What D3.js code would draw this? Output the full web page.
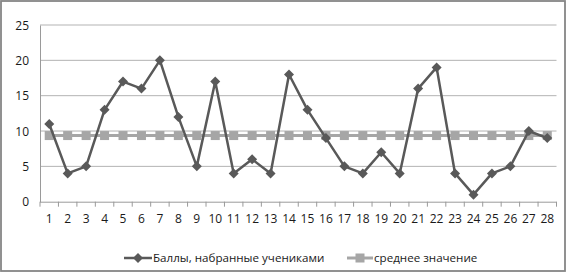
<!DOCTYPE html>
<html><head><meta charset="utf-8">
<script src="https://cdn.jsdelivr.net/npm/d3@7"></script>
<style>body{margin:0;background:#fff}svg{display:block}text{font-family:"Open Sans",sans-serif;fill:#1a1a1a}</style>
</head><body>
<script>
const categories = d3.range(1, 29).map(String);
const scores = [11,4,5,13,17,16,20,12,5,17,4,6,4,18,13,9,5,4,7,4,16,19,4,1,4,5,10,9];
const meanValue = d3.mean(scores);
const meanSeries = categories.map(() => meanValue);
const yTicks = [0,5,10,15,20,25];
const seriesNames = ["Баллы, набранные учениками", "среднее значение"];

(function(){
const W = 568, H = 273;
const svg = d3.select("body").append("svg").attr("width", W).attr("height", H);
svg.append("rect").attr("x",1).attr("y",1).attr("width",W-4).attr("height",H-3)
  .attr("fill","#fff").attr("stroke","#868686").attr("stroke-width",1.8);

const pl = 40, pr = 556.5, pt = 25, pb = 201.7;
const x = d3.scaleBand().domain(categories).range([pl, pr]);
const y = d3.scaleLinear().domain([0, 25]).range([pb, pt]);

svg.append("g").selectAll("line").data(yTicks.filter(t=>t>0)).join("line")
  .attr("x1", pl).attr("x2", pr).attr("y1", d=>y(d)).attr("y2", d=>y(d))
  .attr("stroke","#b3b3b3").attr("stroke-width",1);

const ya = svg.append("g").attr("transform",`translate(${pl},0)`)
  .call(d3.axisLeft(y).tickValues(yTicks).tickSize(0).tickPadding(0));
ya.select(".domain").attr("stroke","#9a9a9a");
ya.selectAll("text").attr("x",-11).attr("dy","0.35em").style("font-size","12px").style("font-family","Open Sans");

const xa = svg.append("g").attr("transform",`translate(0,${pb})`)
  .call(d3.axisBottom(x).tickSize(0).tickPadding(0));
xa.select(".domain").attr("stroke","#9a9a9a").attr("d",`M${pl},0.5H${pr}`);
xa.selectAll("text").attr("y",17).attr("dy","0.35em").style("font-size","12px").style("font-family","Open Sans");
svg.append("g").selectAll("line").data(d3.range(0, 29)).join("line")
  .attr("x1", i=>pl + i*x.bandwidth()).attr("x2", i=>pl + i*x.bandwidth())
  .attr("y1", pb).attr("y2", pb+5).attr("stroke","#9a9a9a");

const cx = d => x(d) + x.bandwidth()/2;
const line = d3.line().x((d,i)=>cx(categories[i])).y(d=>y(d));

svg.append("path").datum(meanSeries).attr("d", line).attr("fill","none")
  .attr("stroke","#a6a6a6").attr("stroke-width",3);
svg.append("g").selectAll("rect").data(meanSeries).join("rect")
  .attr("x",(d,i)=>cx(categories[i])-4.5).attr("y",d=>y(d)-4.5)
  .attr("width",9).attr("height",9).attr("fill","#a6a6a6");

svg.append("path").datum(scores).attr("d", line).attr("fill","none")
  .attr("stroke","#595959").attr("stroke-width",2.5).attr("stroke-linejoin","round");
const diamond = d3.symbol().type(d3.symbolSquare).size(50);
svg.append("g").selectAll("path").data(scores).join("path")
  .attr("d", diamond)
  .attr("transform",(d,i)=>`translate(${cx(categories[i])},${y(d)}) rotate(45)`)
  .attr("fill","#595959");

const lg = svg.append("g");
lg.append("line").attr("x1",124).attr("x2",152).attr("y1",258).attr("y2",258)
  .attr("stroke","#595959").attr("stroke-width",2.5);
lg.append("path").attr("d",diamond).attr("transform","translate(138,258) rotate(45)").attr("fill","#595959");
lg.append("text").attr("x",153).attr("y",258).attr("dy","0.35em").style("font-size","11.6px").text(seriesNames[0]);
lg.append("line").attr("x1",347).attr("x2",373).attr("y1",258).attr("y2",258)
  .attr("stroke","#a6a6a6").attr("stroke-width",3);
lg.append("rect").attr("x",355.5).attr("y",253.5).attr("width",9).attr("height",9).attr("fill","#a6a6a6");
lg.append("text").attr("x",374).attr("y",258).attr("dy","0.35em").style("font-size","11.6px").text(seriesNames[1]);
})();
</script>
</body></html>
